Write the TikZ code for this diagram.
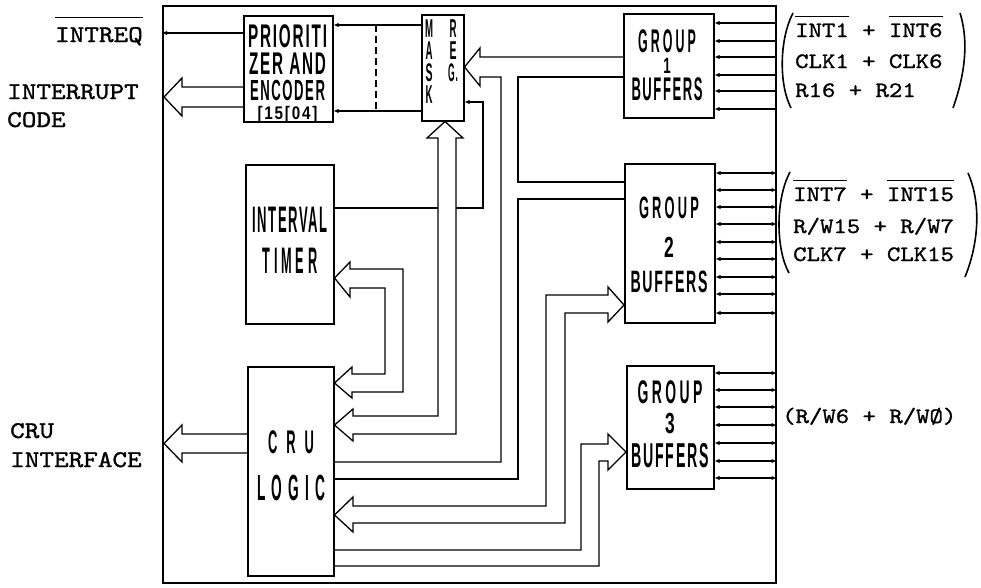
\documentclass[tikz,border=0pt]{standalone}
\usepackage{fontspec}
\usepackage{graphicx}
\usetikzlibrary{arrows.meta}
\newfontfamily\twfont[Extension=.otf,FakeStretch=1.16,FakeBold=1.2]{lmmono10-regular}
\newfontfamily\blkfont[LetterSpace=12]{Liberation Sans}
\newcommand\bx[3]{\resizebox{#1pt}{\dimexpr #2pt*127/100\relax}{\blkfont\bfseries\fontsize{20}{20}\selectfont #3}}
\newcommand\bxs[4]{\resizebox{#1pt}{\dimexpr #2pt*127/100\relax}{\blkfont\bfseries\fontsize{20}{20}\selectfont\addfontfeature{LetterSpace=#3}#4}}
\newcommand\bh[2]{\resizebox{!}{\dimexpr #1pt*127/100\relax}{\blkfont\bfseries\fontsize{20}{20}\selectfont\addfontfeature{FakeStretch=0.6}#2}}
\newcommand\myovl[2][6pt]{\setbox0\hbox{#2}\rlap{\raisebox{\dimexpr\ht0+#1\relax}{\rule{\wd0}{0.9pt}}}\box0\relax}
\lineskiplimit=-50pt
\tikzset{
  ln/.style={line width=1.3pt},
  box/.style={draw, line width=1.5pt, inner sep=0pt, anchor=north west},
  arr/.style={ln, -{Latex[length=5pt,width=4.5pt]}},
  biarr/.style={ln, {Latex[length=5pt,width=4.5pt]}-{Latex[length=5pt,width=4.5pt]}},
  ml/.style={inner sep=0pt, anchor=north, align=center, font=\fontsize{10}{#1}\selectfont},
  twl/.style={inner sep=0pt, font=\twfont\fontsize{24}{24}\selectfont},
  twr/.style={inner sep=0pt, anchor=base west, font=\twfont\fontsize{22}{22}\selectfont},
  paren/.style={line width=1.6pt},
}
\begin{document}
\begin{tikzpicture}[x=1pt,y=-1pt]
\useasboundingbox (0,0) rectangle (981,587);
% boxes
\node[box, minimum width=613pt, minimum height=577pt] (outer) at (162,5) {};
\node[box, minimum width=89pt, minimum height=106pt] (pri) at (243,15) {};
\node[box, minimum width=42pt, minimum height=106pt] (mask) at (421,14) {};
\node[box, minimum width=90pt, minimum height=104pt] (g1) at (623,13) {};
\node[box, minimum width=88pt, minimum height=159pt] (timer) at (245,164) {};
\node[box, minimum width=86pt, minimum height=209pt] (cru) at (247,366) {};
\node[box, minimum width=90pt, minimum height=159pt] (g2) at (624,163) {};
\node[box, minimum width=87pt, minimum height=123pt] (g3) at (626,365) {};

% box texts
\node[ml=19pt] (ptxt) at (287.5,24.1) {\bx{79}{18}{PRIORITI}\\[8pt]\bx{77}{17}{ZER AND}\\[7pt]\bx{75}{16}{ENCODER}\\ \resizebox*{60pt}{17pt}{\blkfont\bfseries\fontsize{20}{20}\selectfont [15[04]}};
\node[ml=22pt] (mtxt) at (429,20) {\bx{8}{14}{M}\\\bx{7}{14}{A}\\\bx{7}{14}{S}\\\bx{7}{14}{K}};
\node[ml=22pt] (rtxt) at (453,20) {\bx{7}{14}{R}\\\bx{7}{14}{E}\\\bx{10}{14}{G.}};
\node[ml=21pt] (g1txt) at (667,29.1) {\bxs{58}{18}{25}{GROUP}\\\bh{12}{1}\\[6pt]\bx{71}{18}{BUFFERS}};
\node[ml=35pt] (g2txt) at (669,196.4) {\bxs{60}{17}{25}{GROUP}\\[4pt]\bh{16}{2}\\\bx{77}{17}{BUFFERS}};
\node[ml=30pt] (g3txt) at (670,380.1) {\bxs{65}{18}{25}{GROUP}\\\bh{16}{3}\\[4pt]\bx{77}{19}{BUFFERS}};
\node[ml=41pt] (ttxt) at (290,206.6) {\bx{75}{20}{INTERVAL}\\\bxs{55}{20}{30}{TIMER}};
\node[ml=47pt] (ctxt) at (291,430.1) {\bxs{46}{18}{70}{CRU}\\\bxs{68}{20}{45}{LOGIC}};

% outside labels
\node[twl, anchor=base east] (intreq) at (143,42) {\myovl[9pt]{INTREQ}};
\node[twl, anchor=base west] (ic1) at (7,99) {INTERRUPT};
\node[twl, anchor=base west] (ic2) at (7,127) {CODE};
\node[twl, anchor=base west] (cr1) at (10,438) {CRU};
\node[twl, anchor=base west] (cr2) at (10,467) {INTERFACE};

\node[twr] (r11) at (795,37) {\myovl{INT1} + \myovl{INT6}};
\node[twr] (r12) at (795,68) {CLK1 + CLK6};
\node[twr] (r13) at (795,97) {R16 + R21};
\node[twr] (r21) at (793,201) {\myovl{INT7} + \myovl{INT15}};
\node[twr] (r22) at (793,233) {R/W15 + R/W7};
\node[twr] (r23) at (793,261) {CLK7 + CLK15};
\node[twr] (r31) at (782,423) {(R/W6 + R/WØ)};

% parentheses
\draw[paren] (793,13) .. controls (779,40) and (779,85) .. (791,108);
\draw[paren] (960,13) .. controls (970,45) and (963,80) .. (953,108);
\draw[paren] (790,172) .. controls (775,200) and (776,250) .. (789,273);
\draw[paren] (968,173) .. controls (982,205) and (978,245) .. (965,277);

% prioritizer / mask
\draw[arr] (pri.west |- 0,33) -- (outer.west |- 0,33);
\draw[arr] (mask.west |- 0,25) -- (pri.east |- 0,25);
\draw[arr] (mask.west |- 0,111) -- (pri.east |- 0,111);
\draw[ln, dash pattern=on 7pt off 4pt] (376,25) -- (376,111);

% hollow arrow: interrupt code
\draw[ln] (pri.west |- 0,87) -- (182,87) -- (182,78) -- (164,97) -- (182,116) -- (182,107) -- (pri.west |- 0,107);
% hollow arrow: CRU interface
\draw[ln] (cru.west |- 0,434) -- (182,434) -- (182,425) -- (164,443.5) -- (182,462) -- (182,453) -- (cru.west |- 0,453);

% hollow arrow into mask from right
\draw[ln] (g1.west |- 0,57) -- (480,57) -- (480,48) -- (mask.east |- 0,67) -- (480,86) -- (480,77) -- (501,77) -- (501,462) -- (cru.east |- 0,462);

% timer to mask
\draw[arr] (timer.east |- 0,208) -- (483,208) -- (483,102) -- (mask.east |- 0,102);

% cru <-> mask bus
\draw[ln, fill=white] (353,416) -- (353,409) -- (cru.east |- 0,425) -- (353,441) -- (353,434) -- (456,434) -- (456,138) -- (463,138) -- (mask.south -| 445,0) -- (427,138) -- (438,138) -- (438,416) -- cycle;

% timer <-> cru bus
\draw[ln] (350,269) -- (403,269) -- (403,392) -- (352,392) -- (352,398) -- (cru.east |- 0,383) -- (352,367) -- (352,374) -- (385,374) -- (385,288) -- (350,288) -- (350,297) -- (timer.east |- 0,278) -- (350,262) -- cycle;

% group lines
\draw[ln] (g1.west |- 0,77) -- (518,77) -- (518,182) -- (g2.west |- 0,182);
\draw[ln] (cru.east |- 0,479) -- (518,479) -- (518,199) -- (g2.west |- 0,199);

% group2 <-> cru bus
\draw[ln] (353,506) -- (546,506) -- (546,295) -- (608,295) -- (608,287) -- (g2.west |- 0,305) -- (608,322) -- (608,313) -- (565,313) -- (565,523) -- (353,523) -- (353,532) -- (cru.east |- 0,515) -- (353,497) -- cycle;

% cru -> group3 bus
\draw[ln] (cru.east |- 0,550) -- (581,550) -- (581,444) -- (608,444) -- (608,434) -- (g3.west |- 0,452) -- (608,470) -- (608,461) -- (599,461) -- (599,566) -- (cru.east |- 0,566);

% external lines
\foreach \yy in {23,41,57,75,91,109} \draw[arr] (outer.east |- 0,\yy) -- (g1.east |- 0,\yy);
\foreach \yy in {173,190,207,224,242,259,277,294,313} \draw[biarr] (outer.east |- 0,\yy) -- (g2.east |- 0,\yy);
\foreach \yy in {373,390,407,425,443,461,478} \draw[biarr] (outer.east |- 0,\yy) -- (g3.east |- 0,\yy);
\end{tikzpicture}
\end{document}
